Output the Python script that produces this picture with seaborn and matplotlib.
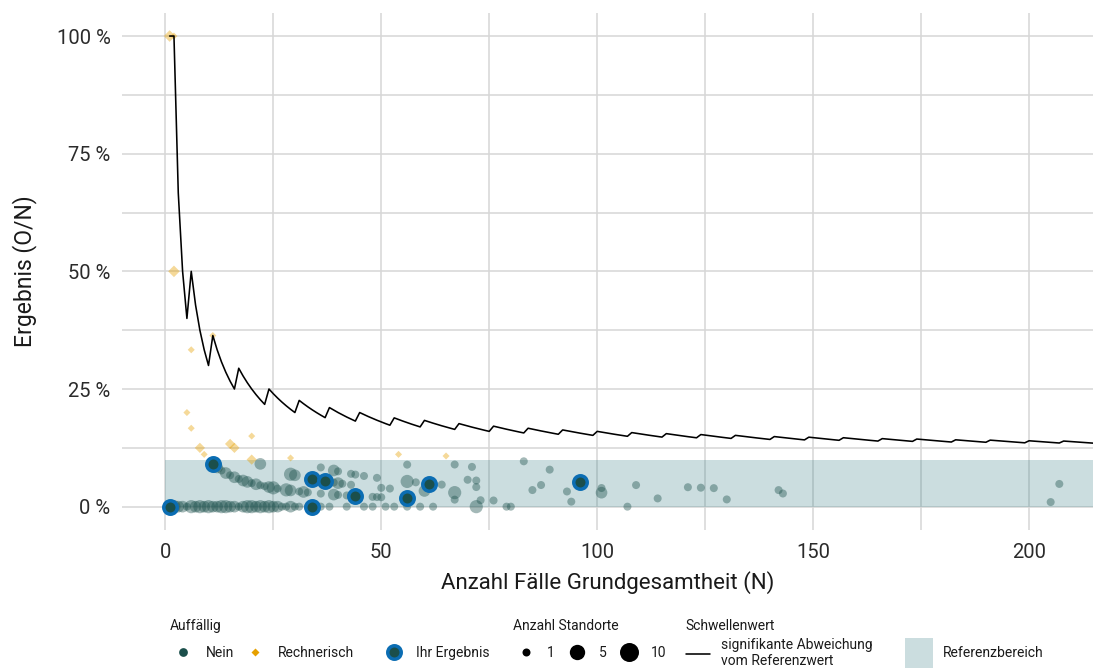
import numpy as np
import pandas as pd
import matplotlib
matplotlib.use("Agg")
import matplotlib.pyplot as plt
import seaborn as sns
from matplotlib.lines import Line2D
from matplotlib.patches import Patch

# ---------------- data ----------------
# "Nein" sites: N (cases), O (observed events), count (number of sites)
nein_N = [2, 3, 4, 5, 6, 7, 8, 9, 10, 11, 12, 13, 14, 15, 16, 17, 18, 19, 20, 21,
          22, 23, 24, 25, 26, 27, 28, 29, 30, 31, 33, 36, 38, 42, 46, 48, 51, 53,
          56, 59, 62, 72, 79, 80, 107,
          12, 13, 14, 15, 16, 17, 18, 19, 20, 21, 22, 23, 24, 25, 26, 28, 29, 31,
          32, 33, 36, 39, 40, 42, 43, 48, 49, 50, 67, 73, 76, 94,
          22, 29, 30, 39, 40, 41, 43, 50, 52, 60, 67, 114, 130, 205,
          36, 39, 40, 43, 44, 46, 49, 56, 58, 64, 72, 85, 93, 101,
          70, 72, 87, 101, 143,
          56, 109, 121, 124, 127, 142,
          67, 71, 89, 83, 207]
nein_O = [0] * 45 + \
         [1] * 32 + \
         [2] * 14 + \
         [3] * 14 + \
         [4] * 5 + \
         [5] * 6 + \
         [6, 6, 7, 8, 10]
nein_count = [3, 2, 2, 1, 3, 2, 3, 2, 3, 2, 2, 3, 3, 2, 2, 1, 2, 3, 3, 2,
              3, 2, 3, 2, 2, 1, 1, 2, 1, 1, 1, 1, 1, 1, 1, 1, 1, 1,
              1, 1, 1, 3, 1, 1, 1,
              2, 1, 2, 1, 2, 1, 2, 2, 1, 2, 1, 1, 2, 3, 1, 3, 2, 1,
              2, 1, 1, 2, 1, 1, 1, 1, 1, 1, 1, 1, 1, 1,
              2, 3, 2, 1, 2, 1, 1, 1, 1, 2, 3, 1, 1, 1,
              1, 2, 1, 1, 1, 1, 1, 3, 1, 1, 1, 1, 1, 2,
              1, 1, 1, 1, 1,
              1, 1, 1, 1, 1, 1,
              1, 1, 1, 1, 1]

# "Rechnerisch" sites
rech_N = [1, 2, 2, 6, 11, 5, 6, 8, 9, 15, 16, 20, 20, 29, 54, 65]
rech_O = [1, 2, 1, 2, 4, 1, 1, 1, 1, 2, 2, 3, 2, 3, 6, 7]
rech_count = [3, 1, 3, 1, 1, 1, 1, 2, 1, 2, 2, 1, 2, 1, 1, 1]

# "Ihr Ergebnis" sites
ihr_N = [1, 11, 34, 37, 34, 44, 56, 61, 96]
ihr_O = [0, 1, 2, 2, 0, 1, 1, 3, 5]

# threshold (significant deviation): N where the critical count steps up, and that count
thr_start_N = [1, 2, 6, 11, 17, 24, 31, 38, 45, 53, 60, 68, 76, 84, 92, 100, 108,
               116, 124, 132, 141, 149, 157, 166, 174, 183, 191, 200, 208]
thr_count = [1, 2, 3, 4, 5, 6, 7, 8, 9, 10, 11, 12, 13, 14, 15, 16, 17,
             18, 19, 20, 21, 22, 23, 24, 25, 26, 27, 28, 29]
thr_last_N = 216

ref_low, ref_high = 0, 10  # Referenzbereich in %

x_ticks = [0, 50, 100, 150, 200]
y_ticks = [0, 25, 50, 75, 100]
y_ticklabels = ["0 %", "25 %", "50 %", "75 %", "100 %"]
size_legend_values = [1, 5, 10]

# ---------------- styling ----------------
C_NEIN = "#1b4f4b"
C_RECH = "#e6a000"
C_RING = "#0b6db3"
C_BAND = "#1f6f78"
C_GRID = "#d6d6d6"
FONT = ["Roboto", "DejaVu Sans"]

sns.set_theme(style="white")
plt.rcParams["font.family"] = FONT
plt.rcParams["text.color"] = "#1a1a1a"

DPI = 100


def diam_px(c):
    return 8.0 + 11.0 * np.sqrt((np.asarray(c, float) - 1.0) / 9.0)


def s_circle(c):
    return (diam_px(c) * 72.0 / DPI) ** 2


def s_diamond(c):
    # 'D' marker width = sqrt(2)*markersize
    return (0.88 * diam_px(c) / np.sqrt(2) * 72.0 / DPI) ** 2


df_nein = pd.DataFrame({"N": nein_N, "O": nein_O, "count": nein_count})
df_nein["pct"] = 100 * df_nein["O"] / df_nein["N"]
df_rech = pd.DataFrame({"N": rech_N, "O": rech_O, "count": rech_count})
df_rech["pct"] = 100 * df_rech["O"] / df_rech["N"]
df_ihr = pd.DataFrame({"N": ihr_N, "O": ihr_O})
df_ihr["pct"] = 100 * df_ihr["O"] / df_ihr["N"]

# threshold line
line_N = np.arange(1, thr_last_N + 1)
idx = np.searchsorted(thr_start_N, line_N, side="right") - 1
line_k = np.asarray(thr_count)[idx]
df_line = pd.DataFrame({"N": line_N, "pct": 100 * line_k / line_N})

fig = plt.figure(figsize=(1093 / DPI, 668 / DPI), dpi=DPI)
ax = fig.add_axes([121.7 / 1093, 1 - 530.2 / 668, 1 - 121.7 / 1093, (530.2 - 12.5) / 668])

ax.set_xlim(-10.1, 214.8)
ax.set_ylim(-5, 105)

# grid
ax.set_xticks(x_ticks)
ax.set_xticks([25, 75, 125, 175], minor=True)
ax.set_yticks(y_ticks)
ax.set_yticks([12.5, 37.5, 62.5, 87.5], minor=True)
ax.grid(True, which="both", color=C_GRID, linewidth=1.1)
ax.set_axisbelow(True)
for sp in ax.spines.values():
    sp.set_visible(False)

# reference band
ax.axhspan(ref_low, ref_high, xmin=(0 - (-10.1)) / (214.8 + 10.1), xmax=1,
           color=C_BAND, alpha=0.23, linewidth=0, zorder=1.5)

# threshold line
sns.lineplot(data=df_line, x="N", y="pct", color="black", linewidth=1.15,
             ax=ax, zorder=4, legend=False)

# Nein points
nein_sizes = {c: s_circle(c) for c in sorted(set(nein_count))}
sns.scatterplot(data=df_nein, x="N", y="pct", size="count", sizes=nein_sizes,
                color=C_NEIN, alpha=0.4, linewidth=0, ax=ax, legend=False, zorder=3)

# Rechnerisch points
rech_sizes = {c: s_diamond(c) for c in sorted(set(rech_count))}
sns.scatterplot(data=df_rech, x="N", y="pct", size="count", sizes=rech_sizes,
                color=C_RECH, alpha=0.4, marker="D", linewidth=0, ax=ax,
                legend=False, zorder=3)

# Ihr Ergebnis points
sns.scatterplot(data=df_ihr, x="N", y="pct", s=9.7 ** 2, color=C_NEIN,
                edgecolor=C_RING, linewidth=2.5, ax=ax, legend=False, zorder=5)

ax.set_xticklabels([str(t) for t in x_ticks])
ax.set_yticklabels(y_ticklabels)
ax.tick_params(axis="both", which="both", length=0, labelsize=14.5,
               labelcolor="#2b2b2b")
ax.tick_params(axis="x", pad=9)
ax.tick_params(axis="y", pad=8)
ax.set_xlabel("Anzahl Fälle Grundgesamtheit (N)", fontsize=16, labelpad=7,
              color="#1a1a1a")
ax.set_ylabel("Ergebnis (O/N)", fontsize=16.5, labelpad=14, color="#1a1a1a")

# ---------------- legends ----------------
LFS = 10
row_y = 1 - 653 / 668
title_y = 1 - 630 / 668


def add_legend(handles, labels, x_px, **kw):
    opts = dict(loc="center left", bbox_to_anchor=(x_px / 1093, row_y),
                frameon=False, fontsize=LFS, ncol=len(handles),
                handlelength=1.8, handleheight=0.7, handletextpad=0.75,
                columnspacing=1.0, borderpad=0, borderaxespad=0)
    opts.update(kw)
    leg = fig.legend(handles, labels, **opts)
    return leg


h_nein = Line2D([], [], linestyle="", marker="o", markersize=6.3,
                markerfacecolor=C_NEIN, markeredgecolor="none")
h_rech = Line2D([], [], linestyle="", marker="D", markersize=4.1,
                markerfacecolor=C_RECH, markeredgecolor="none")
h_ihr = Line2D([], [], linestyle="", marker="o", markersize=9.7,
               markerfacecolor=C_NEIN, markeredgecolor=C_RING, markeredgewidth=2.5)
add_legend([h_nein, h_rech], ["Nein", "Rechnerisch"], 170, columnspacing=0.65)
add_legend([h_ihr], ["Ihr Ergebnis"], 381)
fig.text(170 / 1093, title_y, "Auffällig", fontsize=LFS, va="baseline", ha="left")

size_handles = [Line2D([], [], linestyle="", marker="o",
                       markersize=diam_px(v) * 72 / DPI,
                       markerfacecolor="black", markeredgecolor="none")
                for v in size_legend_values]
add_legend(size_handles, [str(v) for v in size_legend_values], 513,
           columnspacing=0.72, handletextpad=0.65)
fig.text(513 / 1093, title_y, "Anzahl Standorte", fontsize=LFS, va="baseline",
         ha="left")

h_line = Line2D([], [], color="black", linewidth=1.15)
add_legend([h_line], ["signifikante Abweichung\nvom Referenzwert"], 686,
           handlelength=1.7, handletextpad=0.8)
fig.text(685 / 1093, title_y, "Schwellenwert", fontsize=LFS, va="baseline",
         ha="left")

h_patch = Patch(facecolor=C_BAND, alpha=0.23, edgecolor="none")
add_legend([h_patch], ["Referenzbereich"], 905, handlelength=2.0,
           handleheight=2.9)

fig.savefig("out.png", dpi=DPI)
